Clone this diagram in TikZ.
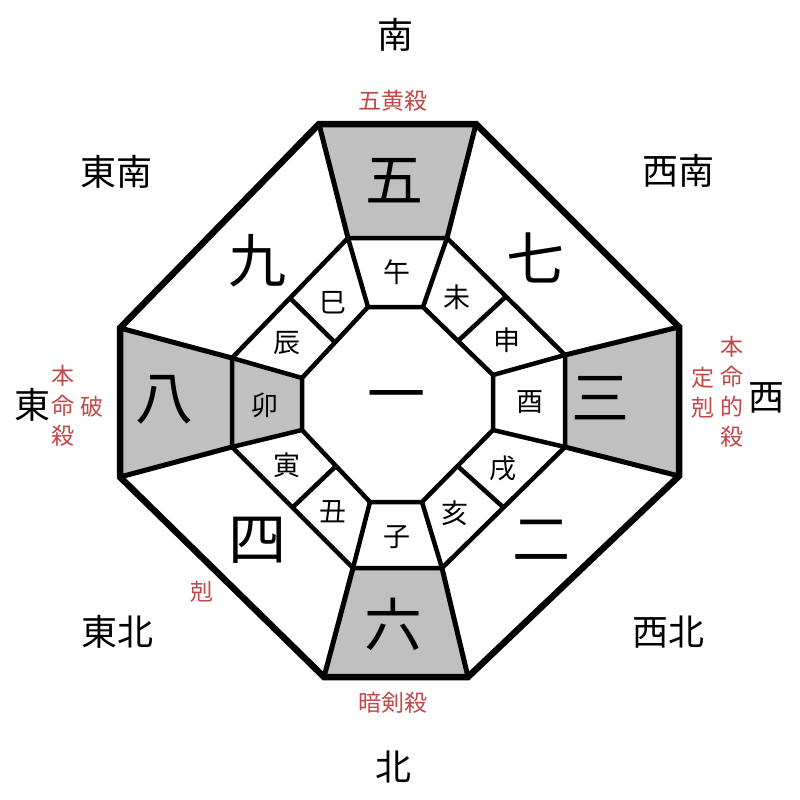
\documentclass[tikz,border=0pt]{standalone}
\usepackage{fontspec}
\usetikzlibrary{calc}
\newfontfamily\jp{Noto Sans CJK JP}
\definecolor{lblred}{RGB}{192,72,72}
\definecolor{sect}{RGB}{192,192,192}
\begin{document}
\begin{tikzpicture}[x=1pt,y=-1pt,
  dirlbl/.style={font=\jp\fontsize{36}{36}\selectfont, inner sep=0},
  starlbl/.style={font=\jp\fontsize{58}{58}\selectfont, inner sep=0},
  zodlbl/.style={font=\jp\fontsize{27}{27}\selectfont, inner sep=0},
  notelbl/.style={font=\jp\fontsize{23}{30}\selectfont, text=lblred, inner sep=0, align=center},
  outerline/.style={line width=6.5pt, line join=miter},
  spokeline/.style={line width=5pt},
  innerline/.style={line width=4.5pt, line join=miter},
  grayfill/.style={fill=sect, draw=none}
]
\useasboundingbox (0,0) rectangle (800,800);
\fill[white] (0,0) rectangle (800,800);
% outer octagon
\coordinate (O1) at (319,124);
\coordinate (O2) at (476,124);
\coordinate (O3) at (679,327);
\coordinate (O4) at (679,476);
\coordinate (O5) at (468,677);
\coordinate (O6) at (324,677);
\coordinate (O7) at (120,477);
\coordinate (O8) at (120,328);
% middle octagon
\coordinate (M1) at (348,238);
\coordinate (M2) at (447,238);
\coordinate (M3) at (565,355);
\coordinate (M4) at (565,447);
\coordinate (M5) at (442,568);
\coordinate (M6) at (353,568);
\coordinate (M7) at (232,447);
\coordinate (M8) at (232,358);
% inner octagon
\coordinate (I1) at (368,307);
\coordinate (I2) at (423,307);
\coordinate (I3) at (493,375);
\coordinate (I4) at (493,430);
\coordinate (I5) at (422,502);
\coordinate (I6) at (370,502);
\coordinate (I7) at (302,430);
\coordinate (I8) at (302,378);
% dividers of diagonal zodiac cells
\coordinate (D1m) at ($(M2)!0.5!(M3)$);
\coordinate (D1i) at ($(I2)!0.5!(I3)$);
\coordinate (D2m) at ($(M4)!0.5!(M5)$);
\coordinate (D2i) at ($(I4)!0.5!(I5)$);
\coordinate (D3m) at ($(M6)!0.5!(M7)$);
\coordinate (D3i) at ($(I6)!0.5!(I7)$);
\coordinate (D4m) at ($(M8)!0.5!(M1)$);
\coordinate (D4i) at ($(I8)!0.5!(I1)$);
% gray sectors
\fill[grayfill] (O1) -- (O2) -- (M2) -- (M1) -- cycle;
\fill[grayfill] (O3) -- (O4) -- (M4) -- (M3) -- cycle;
\fill[grayfill] (O5) -- (O6) -- (M6) -- (M5) -- cycle;
\fill[grayfill] (O7) -- (O8) -- (M8) -- (M7) -- cycle;
\fill[grayfill] (M7) -- (M8) -- (I8) -- (I7) -- cycle;
% lines
\draw[innerline] (M1) -- (M2) -- (M3) -- (M4) -- (M5) -- (M6) -- (M7) -- (M8) -- cycle;
\draw[innerline] (I1) -- (I2) -- (I3) -- (I4) -- (I5) -- (I6) -- (I7) -- (I8) -- cycle;
\foreach \k in {1,...,8} {
  \draw[spokeline] (O\k) -- (M\k);
  \draw[innerline] (M\k) -- (I\k);
}
\foreach \k in {1,...,4} {
  \draw[innerline] (D\k m) -- (D\k i);
}
\draw[outerline] (O1) -- (O2) -- (O3) -- (O4) -- (O5) -- (O6) -- (O7) -- (O8) -- cycle;
% directions
\node[dirlbl] (dS) at (395,35) {南};
\node[dirlbl] (dSE) at (116,172) {東南};
\node[dirlbl] (dSW) at (678,171) {西南};
\node[dirlbl] (dE) at (32,405) {東};
\node[dirlbl] (dW) at (766,398) {西};
\node[dirlbl] (dNE) at (117,632) {東北};
\node[dirlbl] (dNW) at (668,632) {西北};
\node[dirlbl] (dN) at (393,767) {北};
% stars
\node[starlbl] (s5) at (394,181) {五};
\node[starlbl] (s6) at (393,624) {六};
\node[starlbl] (s8) at (164,400) {八};
\node[starlbl] (s3) at (600,398) {三};
\node[starlbl] (s9) at (257,261) {九};
\node[starlbl] (s7) at (535,258) {七};
\node[starlbl] (s4) at (257,540) {四};
\node[starlbl] (s2) at (541,540) {二};
\node[starlbl] (s1) at (396,403) {一};
% zodiac
\node[zodlbl] (zU) at (397,272) {午};
\node[zodlbl] (zH) at (457,297) {未};
\node[zodlbl] (zS) at (507,340) {申};
\node[zodlbl] (zT) at (530,402) {酉};
\node[zodlbl] (zJ) at (503,468) {戌};
\node[zodlbl] (zI) at (455,513) {亥};
\node[zodlbl] (zN) at (397,537) {子};
\node[zodlbl] (zO) at (333,512) {丑};
\node[zodlbl] (zR) at (287,465) {寅};
\node[zodlbl] (zB) at (265,405) {卯};
\node[zodlbl] (zD) at (287,343) {辰};
\node[zodlbl] (zM) at (333,303) {巳};
% red notes
\node[notelbl] (n1) at (393,101) {五黄殺};
\node[notelbl] (n2) at (393,703) {暗剣殺};
\node[notelbl] (n3) at (63,406) {本\\命\\殺};
\node[notelbl] (n4) at (92,407) {破};
\node[notelbl] (n5) at (732,392) {本\\命\\的\\殺};
\node[notelbl] (n6) at (703,393) {定\\剋};
\node[notelbl] (n7) at (202,592) {剋};
\end{tikzpicture}
\end{document}
